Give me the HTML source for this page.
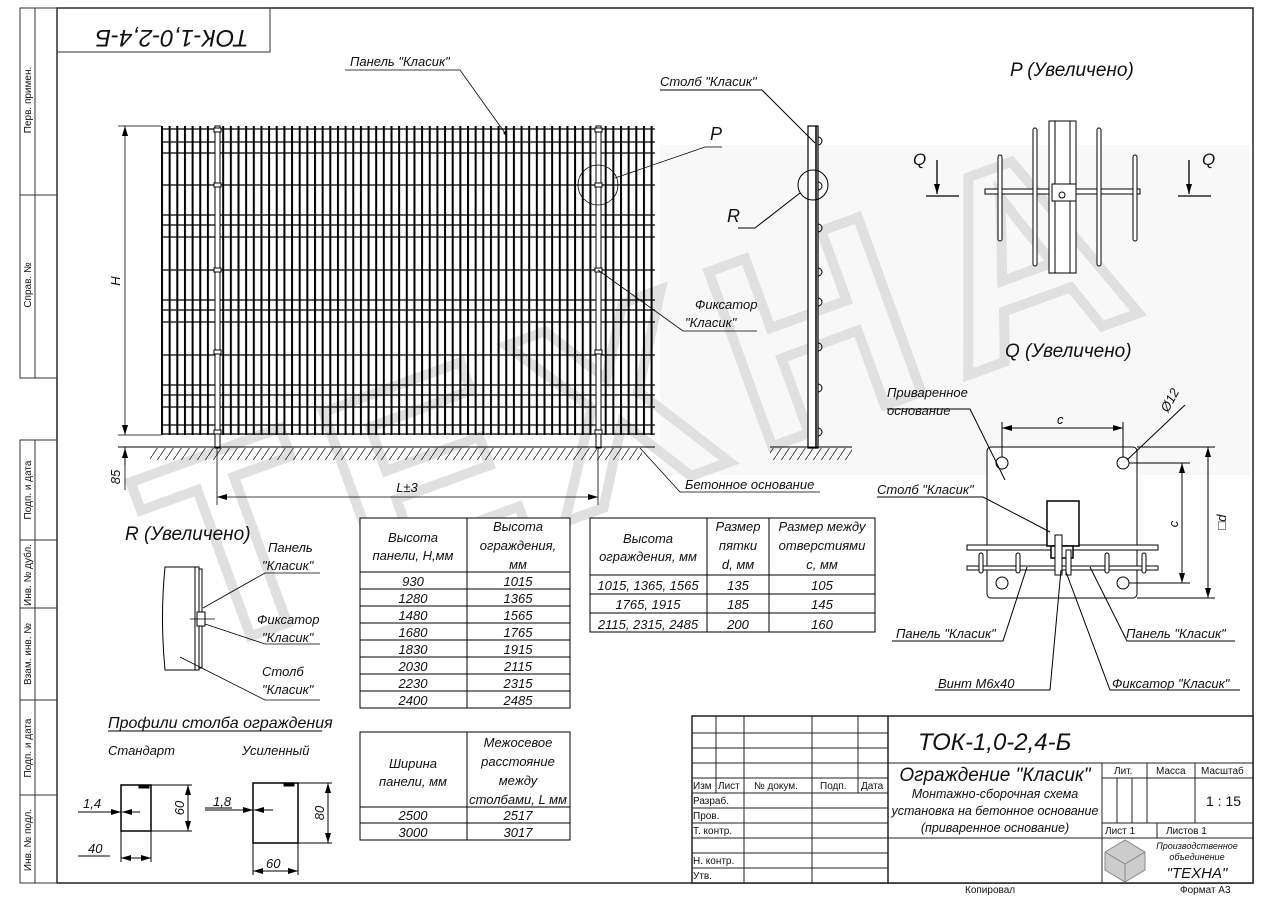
<!DOCTYPE html>
<html><head><meta charset="utf-8"><style>
html,body{margin:0;padding:0;background:#fff}
svg{display:block}
text{font-family:"Liberation Sans Narrow","Liberation Sans",sans-serif;font-style:italic;fill:#111}
.wm{fill:none;stroke:#e0e0e0;stroke-width:10;font-style:normal;font-weight:bold}
</style></head><body>
<svg width="1273" height="900" viewBox="0 0 1273 900" xmlns="http://www.w3.org/2000/svg">
<defs>
<pattern id="vb" x="161" y="0" width="7.65" height="10" patternUnits="userSpaceOnUse"><rect x="0" y="0" width="2" height="10" fill="#000"/></pattern>
<pattern id="ht" x="0" y="0" width="8" height="12" patternUnits="userSpaceOnUse"><line x1="0" y1="12" x2="8" y2="0" stroke="#333" stroke-width="0.9"/></pattern>
<marker id="a" markerWidth="10" markerHeight="6" refX="10" refY="3" orient="auto-start-reverse" markerUnits="userSpaceOnUse"><path d="M0,0 L10,3 L0,6 z" fill="#000"/></marker>
</defs>
<rect width="1273" height="900" fill="#fff"/>
<rect x="660" y="145" width="590" height="330" fill="#f8f8f8"/>
<!-- watermark -->
<g transform="translate(680,480) rotate(-20)">
<text x="0" y="0" text-anchor="middle" font-size="270" class="wm" letter-spacing="25">ТЕХНА</text>
</g>
<!-- frame -->
<rect x="57" y="8" width="1196" height="875" fill="none" stroke="#222" stroke-width="1.5"/>
<g stroke="#333" stroke-width="1" fill="none">
<rect x="20" y="8" width="37" height="370"/><line x1="35" y1="8" x2="35" y2="378"/><line x1="20" y1="195" x2="57" y2="195"/>
<rect x="20" y="440" width="37" height="443"/><line x1="35" y1="440" x2="35" y2="883"/>
<line x1="20" y1="540" x2="57" y2="540"/><line x1="20" y1="608" x2="57" y2="608"/><line x1="20" y1="700" x2="57" y2="700"/><line x1="20" y1="795" x2="57" y2="795"/>
<rect x="57" y="8" width="213" height="44"/>
</g>
<g font-size="10">
<text transform="translate(31,100) rotate(-90)" text-anchor="middle" style="font-style:normal">Перв. примен.</text>
<text transform="translate(31,285) rotate(-90)" text-anchor="middle" style="font-style:normal">Справ. №</text>
<text transform="translate(31,490) rotate(-90)" text-anchor="middle" style="font-style:normal">Подп. и дата</text>
<text transform="translate(31,575) rotate(-90)" text-anchor="middle" style="font-style:normal">Инв. № дубл.</text>
<text transform="translate(31,654) rotate(-90)" text-anchor="middle" style="font-style:normal">Взам. инв. №</text>
<text transform="translate(31,748) rotate(-90)" text-anchor="middle" style="font-style:normal">Подп. и дата</text>
<text transform="translate(31,840) rotate(-90)" text-anchor="middle" style="font-style:normal">Инв. № подл.</text>
</g>
<text transform="translate(172,30) rotate(180)" text-anchor="middle" font-size="24">ТОК-1,0-2,4-Б</text>

<!-- main panel -->
<rect x="161" y="126" width="494" height="309" fill="url(#vb)"/>
<g stroke="#000" stroke-width="1.3">
<line x1="161" y1="129" x2="655" y2="129"/><line x1="161" y1="142" x2="655" y2="142"/><line x1="161" y1="153" x2="655" y2="153"/>
<line x1="161" y1="185" x2="655" y2="185"/><line x1="161" y1="215" x2="655" y2="215"/><line x1="161" y1="225" x2="655" y2="225"/>
<line x1="161" y1="237" x2="655" y2="237"/><line x1="161" y1="270" x2="655" y2="270"/><line x1="161" y1="300" x2="655" y2="300"/>
<line x1="161" y1="310" x2="655" y2="310"/><line x1="161" y1="322" x2="655" y2="322"/><line x1="161" y1="355" x2="655" y2="355"/>
<line x1="161" y1="385" x2="655" y2="385"/><line x1="161" y1="395" x2="655" y2="395"/><line x1="161" y1="407" x2="655" y2="407"/>
<line x1="161" y1="425" x2="655" y2="425"/><line x1="161" y1="434" x2="655" y2="434"/>
</g>
<g fill="#fff" stroke="#000" stroke-width="1">
<rect x="215" y="126" width="5" height="322"/><rect x="596" y="126" width="5" height="322"/>
<rect x="214" y="128" width="7" height="4"/><rect x="214" y="183" width="7" height="4"/><rect x="214" y="268" width="7" height="4"/><rect x="214" y="350" width="7" height="4"/><rect x="214" y="430" width="7" height="4"/>
<rect x="595" y="128" width="7" height="4"/><rect x="595" y="183" width="7" height="4"/><rect x="595" y="268" width="7" height="4"/><rect x="595" y="350" width="7" height="4"/><rect x="595" y="430" width="7" height="4"/>
</g>
<line x1="118" y1="447" x2="655" y2="447" stroke="#000" stroke-width="1"/>
<rect x="150" y="448" width="492" height="12" fill="url(#ht)"/>
<g stroke="#000" stroke-width="0.8" fill="none">
<line x1="118" y1="126" x2="161" y2="126"/><line x1="118" y1="435" x2="161" y2="435"/>
<line x1="125" y1="126" x2="125" y2="435" marker-start="url(#a)" marker-end="url(#a)"/>
<line x1="125" y1="447" x2="125" y2="490"/><line x1="125" y1="465" x2="125" y2="448" marker-end="url(#a)"/>
<line x1="217" y1="448" x2="217" y2="505"/><line x1="598" y1="448" x2="598" y2="505"/>
<line x1="217" y1="497" x2="598" y2="497" marker-start="url(#a)" marker-end="url(#a)"/>
</g>
<text transform="translate(120,281) rotate(-90)" text-anchor="middle" font-size="13">H</text>
<text transform="translate(120,477) rotate(-90)" text-anchor="middle" font-size="13">85</text>
<text x="407" y="492" text-anchor="middle" font-size="13">L±3</text>
<g stroke="#000" stroke-width="0.8" fill="none">
<polyline points="345,70 460,70 505,133"/>
<circle cx="598" cy="185" r="20"/>
<polyline points="722,147 705,147 615,178"/>
<polyline points="757,331 683,331 598,270"/>
<polyline points="820,492 680,492 640,448"/>
</g>
<circle cx="505" cy="133" r="1.5"/>
<text x="350" y="66" font-size="13">Панель "Класик"</text>
<text x="710" y="140" font-size="18">P</text>
<text x="695" y="309" font-size="13">Фиксатор</text>
<text x="685" y="327" font-size="13">"Класик"</text>
<text x="685" y="489" font-size="13">Бетонное основание</text>
<!-- side post -->
<rect x="808" y="126" width="10" height="322" fill="#fff" stroke="#000" stroke-width="1.2"/>
<line x1="816" y1="126" x2="816" y2="448" stroke="#000" stroke-width="1.5"/>
<g fill="none" stroke="#000" stroke-width="1">
<path d="M818,137 a4,4 0 0 1 0,8"/><path d="M818,182 a4,4 0 0 1 0,8"/><path d="M818,224 a4,4 0 0 1 0,8"/><path d="M818,268 a4,4 0 0 1 0,8"/><path d="M818,298 a4,4 0 0 1 0,8"/><path d="M818,343 a4,4 0 0 1 0,8"/><path d="M818,384 a4,4 0 0 1 0,8"/><path d="M818,428 a4,4 0 0 1 0,8"/>
<circle cx="813" cy="185" r="15"/>
<polyline points="660,90 762,90 815,143"/>
<polyline points="738,228 755,228 800,193"/>
</g>
<line x1="770" y1="447" x2="852" y2="447" stroke="#000"/>
<rect x="770" y="448" width="82" height="12" fill="url(#ht)"/>
<text x="660" y="86" font-size="13">Столб "Класик"</text>
<text x="727" y="222" font-size="18">R</text>
<!-- P detail -->
<text x="1010" y="76" font-size="19">P (Увеличено)</text>
<g stroke="#000" stroke-width="1" fill="#fff">
<rect x="985" y="189" width="155" height="5"/>
<rect x="998" y="155" width="4" height="86" rx="2"/><rect x="1033" y="128" width="4" height="138" rx="2"/>
<rect x="1097" y="128" width="4" height="138" rx="2"/><rect x="1133" y="155" width="4" height="86" rx="2"/>
<rect x="1049" y="121" width="27" height="152"/>
<line x1="1055" y1="121" x2="1055" y2="273"/><line x1="1070" y1="121" x2="1070" y2="273"/>
<rect x="1052" y="184" width="24" height="17"/>
<circle cx="1062" cy="195" r="3"/>
</g>
<g stroke="#000" stroke-width="1.3">
<line x1="926" y1="196" x2="959" y2="196"/><line x1="937" y1="160" x2="937" y2="194" marker-end="url(#a)"/>
<line x1="1178" y1="196" x2="1211" y2="196"/><line x1="1189" y1="160" x2="1189" y2="194" marker-end="url(#a)"/>
</g>
<text x="913" y="165" font-size="17">Q</text>
<text x="1202" y="165" font-size="17">Q</text>
<!-- Q detail -->
<text x="1005" y="357" font-size="19">Q (Увеличено)</text>
<g stroke="#000" stroke-width="1" fill="none">
<rect x="987" y="447" width="150" height="151" rx="4" fill="#fff"/>
<circle cx="1002" cy="463" r="6"/><circle cx="1123" cy="463" r="6"/><circle cx="1002" cy="583" r="6"/><circle cx="1123" cy="583" r="6"/>
<line x1="1002" y1="457" x2="1002" y2="422"/><line x1="1123" y1="457" x2="1123" y2="422"/>
<line x1="1002" y1="428" x2="1123" y2="428" marker-start="url(#a)" marker-end="url(#a)"/>
<line x1="1129" y1="463" x2="1190" y2="463"/><line x1="1129" y1="583" x2="1190" y2="583"/>
<line x1="1182" y1="463" x2="1182" y2="583" marker-start="url(#a)" marker-end="url(#a)"/>
<line x1="1137" y1="447" x2="1215" y2="447"/><line x1="1137" y1="598" x2="1215" y2="598"/>
<line x1="1208" y1="447" x2="1208" y2="598" marker-start="url(#a)" marker-end="url(#a)"/>
<line x1="1127" y1="460" x2="1185" y2="405"/>
<rect x="967" y="545" width="191" height="5" fill="#fff"/><rect x="967" y="566" width="191" height="4" fill="#fff"/>
<rect x="979" y="553" width="4" height="20" rx="2" fill="#fff"/><rect x="1016" y="553" width="4" height="20" rx="2" fill="#fff"/>
<rect x="1105" y="553" width="4" height="20" rx="2" fill="#fff"/><rect x="1142" y="553" width="4" height="20" rx="2" fill="#fff"/>
<rect x="1047" y="501" width="32" height="45" fill="#fff" stroke-width="1.5"/>
<rect x="1051" y="546" width="22" height="12" fill="#fff" stroke-width="1.5"/>
<rect x="1055" y="535" width="7" height="40" fill="#fff"/><rect x="1066" y="550" width="5" height="25" fill="#fff"/>
<polyline points="887,409 970,409 1005,480"/>
<polyline points="877,497 983,497 1050,532"/>
<polyline points="892,641 1003,641 1027,567"/>
<polyline points="935,690 1050,690 1061,570"/>
<polyline points="1235,641 1127,641 1090,567"/>
<polyline points="1240,690 1110,690 1066,572"/>
</g>
<text x="887" y="397" font-size="13">Приваренное</text>
<text x="887" y="415" font-size="13">основание</text>
<text x="1057" y="424" font-size="13">c</text>
<text transform="translate(1168,413) rotate(-62)" font-size="13">Ø12</text>
<text transform="translate(1178,524) rotate(-90)" text-anchor="middle" font-size="13">c</text>
<text transform="translate(1226,522) rotate(-90)" text-anchor="middle" font-size="13">□d</text>
<text x="877" y="494" font-size="13">Столб "Класик"</text>
<text x="896" y="638" font-size="13">Панель "Класик"</text>
<text x="938" y="688" font-size="13">Винт М6х40</text>
<text x="1126" y="638" font-size="13">Панель "Класик"</text>
<text x="1112" y="688" font-size="13">Фиксатор "Класик"</text>
<!-- R detail -->
<text x="125" y="540" font-size="19">R (Увеличено)</text>
<g stroke="#000" stroke-width="1" fill="#fff">
<path d="M165,567 L195,567 L195,670 L165,670 Q160,618 165,567 z"/>
<rect x="195" y="567" width="4" height="103"/><rect x="199" y="569" width="3" height="99"/>
<rect x="197" y="612" width="8" height="14"/>
</g>
<g stroke="#000" stroke-width="0.8" fill="none">
<line x1="190" y1="619" x2="215" y2="619"/>
<polyline points="320,573 265,573 203,608"/>
<polyline points="320,644 265,644 205,624"/>
<polyline points="320,700 265,700 180,657"/>
</g>
<text x="268" y="552" font-size="13">Панель</text><text x="262" y="570" font-size="13">"Класик"</text>
<text x="257" y="624" font-size="13">Фиксатор</text><text x="262" y="642" font-size="13">"Класик"</text>
<text x="262" y="676" font-size="13">Столб</text><text x="262" y="694" font-size="13">"Класик"</text>
<!-- tables -->
<g stroke="#000" stroke-width="1" fill="#fff">
<rect x="360" y="518" width="210" height="190"/>
<rect x="590" y="518" width="285" height="114"/>
<rect x="360" y="732" width="210" height="108"/>
</g>
<g stroke="#000" stroke-width="1" fill="none">
<line x1="467" y1="518" x2="467" y2="708"/>
<line x1="360" y1="572" x2="570" y2="572"/><line x1="360" y1="589" x2="570" y2="589"/><line x1="360" y1="606" x2="570" y2="606"/><line x1="360" y1="623" x2="570" y2="623"/><line x1="360" y1="640" x2="570" y2="640"/><line x1="360" y1="657" x2="570" y2="657"/><line x1="360" y1="674" x2="570" y2="674"/><line x1="360" y1="691" x2="570" y2="691"/>
<line x1="707" y1="518" x2="707" y2="632"/><line x1="769" y1="518" x2="769" y2="632"/>
<line x1="590" y1="575" x2="875" y2="575"/><line x1="590" y1="594" x2="875" y2="594"/><line x1="590" y1="613" x2="875" y2="613"/>
<line x1="467" y1="732" x2="467" y2="840"/>
<line x1="360" y1="807" x2="570" y2="807"/><line x1="360" y1="823" x2="570" y2="823"/>
</g>
<g font-size="13" text-anchor="middle">
<text x="413" y="542">Высота</text><text x="413" y="560">панели, Н,мм</text>
<text x="518" y="531">Высота</text><text x="518" y="550">ограждения,</text><text x="518" y="569">мм</text>
<text x="413" y="586">930</text><text x="518" y="586">1015</text>
<text x="413" y="603">1280</text><text x="518" y="603">1365</text>
<text x="413" y="620">1480</text><text x="518" y="620">1565</text>
<text x="413" y="637">1680</text><text x="518" y="637">1765</text>
<text x="413" y="654">1830</text><text x="518" y="654">1915</text>
<text x="413" y="671">2030</text><text x="518" y="671">2115</text>
<text x="413" y="688">2230</text><text x="518" y="688">2315</text>
<text x="413" y="705">2400</text><text x="518" y="705">2485</text>
<text x="648" y="543">Высота</text><text x="648" y="561">ограждения, мм</text>
<text x="738" y="531">Размер</text><text x="738" y="550">пятки</text><text x="738" y="569">d, мм</text>
<text x="822" y="531">Размер между</text><text x="822" y="550">отверстиями</text><text x="822" y="569">с, мм</text>
<text x="648" y="590">1015, 1365, 1565</text><text x="738" y="590">135</text><text x="822" y="590">105</text>
<text x="648" y="609">1765, 1915</text><text x="738" y="609">185</text><text x="822" y="609">145</text>
<text x="648" y="629">2115, 2315, 2485</text><text x="738" y="629">200</text><text x="822" y="629">160</text>
<text x="413" y="768">Ширина</text><text x="413" y="786">панели, мм</text>
<text x="518" y="747">Межосевое</text><text x="518" y="766">расстояние</text><text x="518" y="785">между</text><text x="518" y="804">столбами, L мм</text>
<text x="413" y="820">2500</text><text x="518" y="820">2517</text>
<text x="413" y="837">3000</text><text x="518" y="837">3017</text>
</g>
<!-- profiles -->
<text x="108" y="728" font-size="16">Профили столба ограждения</text>
<line x1="108" y1="731" x2="322" y2="731" stroke="#000"/>
<text x="108" y="755" font-size="13">Стандарт</text>
<text x="242" y="755" font-size="13">Усиленный</text>
<g stroke="#000" stroke-width="1" fill="none">
<rect x="121" y="785" width="30" height="46" stroke-width="1.5"/>
<rect x="139" y="785" width="10" height="3" fill="#000"/>
<line x1="151" y1="785" x2="192" y2="785"/><line x1="151" y1="831" x2="192" y2="831"/>
<line x1="188" y1="785" x2="188" y2="831" marker-start="url(#a)" marker-end="url(#a)"/>
<line x1="121" y1="831" x2="121" y2="862"/><line x1="151" y1="831" x2="151" y2="862"/>
<line x1="121" y1="858" x2="151" y2="858" marker-start="url(#a)" marker-end="url(#a)"/>
<line x1="78" y1="812" x2="121" y2="812" marker-end="url(#a)"/><line x1="140" y1="812" x2="122" y2="812" marker-end="url(#a)"/>
<line x1="78" y1="856" x2="110" y2="856"/>
<rect x="253" y="783" width="45" height="60" stroke-width="1.5"/>
<rect x="284" y="783" width="10" height="3" fill="#000"/>
<line x1="298" y1="783" x2="332" y2="783"/><line x1="298" y1="843" x2="332" y2="843"/>
<line x1="328" y1="783" x2="328" y2="843" marker-start="url(#a)" marker-end="url(#a)"/>
<line x1="253" y1="843" x2="253" y2="875"/><line x1="298" y1="843" x2="298" y2="875"/>
<line x1="253" y1="871" x2="298" y2="871" marker-start="url(#a)" marker-end="url(#a)"/>
<line x1="205" y1="810" x2="253" y2="810" marker-end="url(#a)"/><line x1="273" y1="810" x2="254" y2="810" marker-end="url(#a)"/>
<line x1="205" y1="808" x2="232" y2="808"/>
</g>
<text x="83" y="808" font-size="13">1,4</text>
<text x="213" y="806" font-size="13">1,8</text>
<text transform="translate(184,808) rotate(-90)" text-anchor="middle" font-size="13">60</text>
<text transform="translate(324,813) rotate(-90)" text-anchor="middle" font-size="13">80</text>
<text x="88" y="853" font-size="13">40</text>
<text x="266" y="868" font-size="13">60</text>
<!-- title block -->
<rect x="692" y="716" width="561" height="167" fill="#fff"/>
<g stroke="#222" stroke-width="1" fill="none">
<rect x="692" y="716" width="561" height="167" stroke-width="1.5"/>
<line x1="888" y1="716" x2="888" y2="883" stroke-width="1.5"/>
<line x1="716" y1="716" x2="716" y2="793"/><line x1="744" y1="716" x2="744" y2="883"/>
<line x1="812" y1="716" x2="812" y2="883"/><line x1="858" y1="716" x2="858" y2="793"/>
<line x1="692" y1="733" x2="888" y2="733"/><line x1="692" y1="748" x2="888" y2="748"/><line x1="692" y1="763" x2="888" y2="763"/>
<line x1="692" y1="778" x2="888" y2="778"/><line x1="692" y1="793" x2="888" y2="793"/><line x1="692" y1="808" x2="888" y2="808"/>
<line x1="692" y1="823" x2="888" y2="823"/><line x1="692" y1="838" x2="888" y2="838"/><line x1="692" y1="853" x2="888" y2="853"/><line x1="692" y1="868" x2="888" y2="868"/>
<line x1="888" y1="763" x2="1253" y2="763"/>
<line x1="1102" y1="763" x2="1102" y2="883"/>
<line x1="1102" y1="778" x2="1253" y2="778"/>
<line x1="1147" y1="763" x2="1147" y2="823"/><line x1="1195" y1="763" x2="1195" y2="823"/>
<line x1="1117" y1="778" x2="1117" y2="823"/><line x1="1132" y1="778" x2="1132" y2="823"/>
<line x1="1102" y1="823" x2="1253" y2="823"/><line x1="1102" y1="838" x2="1253" y2="838"/>
<line x1="1157" y1="823" x2="1157" y2="838"/>
<line x1="888" y1="838" x2="1102" y2="838"/>
</g>
<text x="918" y="750" font-size="24">ТОК-1,0-2,4-Б</text>
<text x="995" y="781" text-anchor="middle" font-size="19">Ограждение "Класик"</text>
<text x="995" y="798" text-anchor="middle" font-size="12.5">Монтажно-сборочная схема</text>
<text x="995" y="815" text-anchor="middle" font-size="12.5">установка на бетонное основание</text>
<text x="995" y="832" text-anchor="middle" font-size="12.5">(приваренное основание)</text>
<g font-size="10">
<text x="693" y="789" style="font-style:normal">Изм</text><text x="718" y="789" style="font-style:normal">Лист</text>
<text x="754" y="789" style="font-style:normal">№ докум.</text><text x="820" y="789" style="font-style:normal">Подп.</text><text x="861" y="789" style="font-style:normal">Дата</text>
<text x="693" y="804" style="font-style:normal">Разраб.</text><text x="693" y="819" style="font-style:normal">Пров.</text>
<text x="693" y="834" style="font-style:normal">Т. контр.</text><text x="693" y="864" style="font-style:normal">Н. контр.</text><text x="693" y="879" style="font-style:normal">Утв.</text>
<text x="1114" y="774" style="font-style:normal">Лит.</text><text x="1156" y="774" style="font-style:normal">Масса</text><text x="1201" y="774" style="font-style:normal">Масштаб</text>
<text x="1105" y="834" style="font-style:normal">Лист 1</text><text x="1166" y="834" style="font-style:normal">Листов 1</text>
<text x="965" y="893" style="font-style:normal">Копировал</text><text x="1180" y="893" style="font-style:normal">Формат А3</text>
</g>
<text x="1206" y="806" font-size="14" style="font-style:normal">1 : 15</text>
<g transform="translate(1125,860)">
<path d="M-20,-8 L0,-20 L20,-8 L20,10 L0,22 L-20,10 z" fill="#ccc" stroke="#888"/>
<path d="M-20,-8 L0,4 L20,-8 M0,4 L0,22" stroke="#888" fill="none"/>
</g>
<text x="1197" y="849" text-anchor="middle" font-size="9">Производственное</text>
<text x="1197" y="860" text-anchor="middle" font-size="9">объединение</text>
<text x="1197" y="878" text-anchor="middle" font-size="15">"ТЕХНА"</text>
</svg>
</body></html>
